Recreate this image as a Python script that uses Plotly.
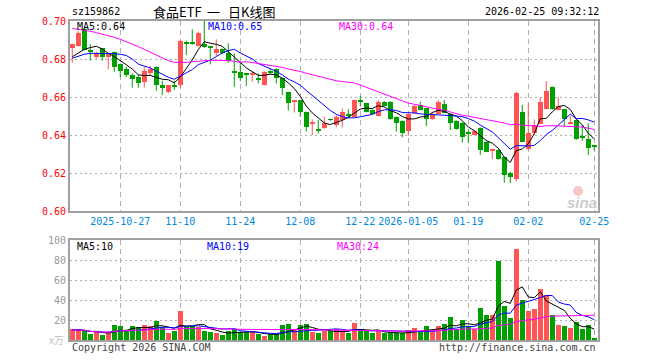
import numpy as np
import pandas as pd
import plotly.graph_objects as go

# ---------------- data ----------------
opens = [0.6858, 0.6868, 0.6956, 0.6847, 0.6809, 0.6856, 0.6809, 0.6835, 0.6774, 0.6747,
         0.6716, 0.6707, 0.6681, 0.6728, 0.6760, 0.6663, 0.6628, 0.6663, 0.6663, 0.6885,
         0.6885, 0.6868, 0.6879, 0.6865, 0.6830, 0.6851, 0.6830, 0.6735, 0.6733, 0.6723,
         0.6721, 0.6698, 0.6663, 0.6739, 0.6746, 0.6698, 0.6628, 0.6575, 0.6584, 0.6523,
         0.6459, 0.6428, 0.6435, 0.6484, 0.6453, 0.6479, 0.6507, 0.6496, 0.6584, 0.6567,
         0.6532, 0.6500, 0.6575, 0.6575, 0.6496, 0.6475, 0.6423, 0.6514, 0.6558, 0.6540,
         0.6482, 0.6511, 0.6563, 0.6511, 0.6475, 0.6465, 0.6411, 0.6400, 0.6435, 0.6365,
         0.6319, 0.6321, 0.6282, 0.6202, 0.6167, 0.6523, 0.6325, 0.6412, 0.6458, 0.6535,
         0.6654, 0.6532, 0.6535, 0.6458, 0.6479, 0.6390, 0.6379, 0.6340]
highs = [0.6881, 0.6946, 0.6960, 0.6879, 0.6839, 0.6858, 0.6830, 0.6839, 0.6777, 0.6760,
         0.6725, 0.6716, 0.6760, 0.6763, 0.6763, 0.6686, 0.6663, 0.6686, 0.6900, 0.6897,
         0.6956, 0.6944, 0.7000, 0.6868, 0.6904, 0.6856, 0.6883, 0.6830, 0.6786, 0.6725,
         0.6733, 0.6725, 0.6735, 0.6751, 0.6751, 0.6700, 0.6628, 0.6584, 0.6584, 0.6523,
         0.6482, 0.6479, 0.6496, 0.6486, 0.6505, 0.6540, 0.6535, 0.6586, 0.6605, 0.6570,
         0.6535, 0.6584, 0.6578, 0.6578, 0.6498, 0.6477, 0.6514, 0.6558, 0.6575, 0.6542,
         0.6523, 0.6584, 0.6584, 0.6514, 0.6477, 0.6467, 0.6426, 0.6426, 0.6440, 0.6367,
         0.6325, 0.6323, 0.6284, 0.6207, 0.6628, 0.6558, 0.6567, 0.6482, 0.6598, 0.6684,
         0.6656, 0.6598, 0.6537, 0.6500, 0.6481, 0.6453, 0.6461, 0.6341]
lows = [0.6781, 0.6865, 0.6845, 0.6791, 0.6802, 0.6791, 0.6746, 0.6733, 0.6704, 0.6704,
        0.6649, 0.6649, 0.6649, 0.6711, 0.6633, 0.6610, 0.6619, 0.6637, 0.6646, 0.6821,
        0.6875, 0.6865, 0.6858, 0.6772, 0.6816, 0.6825, 0.6781, 0.6654, 0.6684, 0.6658,
        0.6681, 0.6672, 0.6660, 0.6720, 0.6672, 0.6610, 0.6528, 0.6518, 0.6496, 0.6418,
        0.6400, 0.6409, 0.6433, 0.6475, 0.6440, 0.6440, 0.6488, 0.6494, 0.6553, 0.6520,
        0.6509, 0.6498, 0.6551, 0.6480, 0.6418, 0.6388, 0.6395, 0.6511, 0.6530, 0.6447,
        0.6479, 0.6509, 0.6516, 0.6426, 0.6428, 0.6360, 0.6360, 0.6398, 0.6295, 0.6310,
        0.6272, 0.6270, 0.6149, 0.6146, 0.6155, 0.6363, 0.6321, 0.6400, 0.6456, 0.6533,
        0.6533, 0.6530, 0.6447, 0.6456, 0.6375, 0.6370, 0.6295, 0.6318]
closes = [0.6879, 0.6939, 0.6847, 0.6839, 0.6830, 0.6809, 0.6825, 0.6760, 0.6739, 0.6716,
          0.6695, 0.6675, 0.6737, 0.6746, 0.6663, 0.6646, 0.6663, 0.6654, 0.6897, 0.6881,
          0.6881, 0.6935, 0.6861, 0.6858, 0.6851, 0.6830, 0.6791, 0.6731, 0.6698, 0.6719,
          0.6728, 0.6693, 0.6733, 0.6728, 0.6698, 0.6646, 0.6567, 0.6584, 0.6523, 0.6444,
          0.6463, 0.6424, 0.6465, 0.6479, 0.6496, 0.6523, 0.6503, 0.6584, 0.6576, 0.6523,
          0.6511, 0.6575, 0.6553, 0.6482, 0.6465, 0.6412, 0.6511, 0.6553, 0.6532, 0.6482,
          0.6511, 0.6575, 0.6518, 0.6465, 0.6430, 0.6391, 0.6407, 0.6423, 0.6321, 0.6312,
          0.6323, 0.6272, 0.6190, 0.6181, 0.6623, 0.6365, 0.6412, 0.6453, 0.6575, 0.6633,
          0.6535, 0.6553, 0.6482, 0.6470, 0.6377, 0.6386, 0.6330, 0.6338]
volumes = [10.3, 10.3, 8.7, 5.3, 8.7, 4.3, 7.7, 14.3, 13.3, 8.7,
           13.3, 12.7, 14.3, 13.3, 18.3, 12.7, 6.3, 8.3, 28.3, 13.7,
           13.7, 13.0, 8.3, 7.7, 6.3, 4.3, 8.3, 10.3, 7.7, 7.7,
           7.7, 5.3, 3.7, 5.3, 5.3, 14.3, 15.3, 10.3, 14.3, 15.3,
           7.7, 6.3, 8.3, 8.7, 11.0, 8.7, 6.7, 16.3, 10.3, 8.7,
           6.7, 8.7, 6.7, 6.7, 6.7, 6.7, 9.7, 11.3, 7.7, 13.3,
           9.7, 13.3, 15.3, 22.3, 10.3, 19.7, 13.7, 10.3, 31.3, 24.3,
           24.3, 79.3, 34.3, 21.3, 91.3, 40.3, 28.7, 30.3, 51.3, 45.3,
           24.3, 14.3, 13.3, 11.3, 17.7, 10.3, 14.3, 1.3]

# moving-average values for the first days, where the
# averaging window reaches back before the first visible candle
ma5_lead = [0.6812, 0.6830, 0.6851, 0.6860]
ma10_lead = [0.6804, 0.6816, 0.6825, 0.6830, 0.6830, 0.6830, 0.6830, 0.6828, 0.6825]
ma30_lead = [0.6961, 0.6957, 0.6952, 0.6946, 0.6939, 0.6932, 0.6925, 0.6914, 0.6904, 0.6892,
             0.6879, 0.6865, 0.6851, 0.6835, 0.6819, 0.6804, 0.6791, 0.6782, 0.6781, 0.6782,
             0.6786, 0.6789, 0.6791, 0.6793, 0.6793, 0.6793, 0.6791, 0.6788, 0.6782]

tick_pos = [8, 18, 28, 38, 48, 56, 66, 76, 87]
tick_labels = ["2025-10-27", "11-10", "11-24", "12-08", "12-22",
               "2026-01-05", "01-19", "02-02", "02-25"]
price_ticks = [0.60, 0.62, 0.64, 0.66, 0.68, 0.70]
vol_ticks = [20, 40, 60, 80, 100]

code = "sz159862"
title_parts = ["食品ETF", "一", "日K线图"]
stamp = "2026-02-25 09:32:12"
price_legend = ["MA5:0.64", "MA10:0.65", "MA30:0.64"]
vol_legend = ["MA5:10", "MA10:19", "MA30:24"]

# ---------------- derived ----------------
o = np.array(opens); h = np.array(highs); l = np.array(lows); c = np.array(closes)
v = np.array(volumes)
n = len(o)
x = np.arange(n)
up = c >= o
RED = "#ff5555"
GREEN = "#00a000"
colors = [RED if u else GREEN for u in up]

body_base = np.minimum(o, c)
body_h = np.maximum(np.abs(c - o), 0.0005)

cs = pd.Series(c)
vs = pd.Series(v)
leads = {5: ma5_lead, 10: ma10_lead, 30: ma30_lead}
ma = {}
for k in (5, 10, 30):
    m = cs.rolling(k).mean().to_numpy()
    m[:len(leads[k])] = leads[k]
    ma[k] = m
vma = {k: vs.rolling(k, min_periods=1).mean() for k in (5, 10, 30)}
ma_colors = {5: "#000000", 10: "#0000ff", 30: "#ff00ff"}

fig = go.Figure()

# wicks
for flag, col in ((True, RED), (False, GREEN)):
    wx, wy = [], []
    for i in range(n):
        if up[i] == flag:
            wx += [i, i, None]
            wy += [l[i], h[i], None]
    fig.add_trace(go.Scatter(x=wx, y=wy, mode="lines", line=dict(color=col, width=1),
                             hoverinfo="skip", xaxis="x", yaxis="y"))

# bodies
fig.add_trace(go.Bar(x=x, y=body_h, base=body_base, marker=dict(color=colors, line=dict(width=0)),
                     width=0.78, xaxis="x", yaxis="y"))

for k in (5, 10, 30):
    fig.add_trace(go.Scatter(x=x, y=ma[k], mode="lines", line=dict(color=ma_colors[k], width=1),
                             xaxis="x", yaxis="y"))

# volume
fig.add_trace(go.Bar(x=x, y=v, marker=dict(color=colors, line=dict(width=0)), width=0.83,
                     xaxis="x2", yaxis="y2"))
for k in (5, 10, 30):
    fig.add_trace(go.Scatter(x=x, y=vma[k], mode="lines", line=dict(color=ma_colors[k], width=1),
                             xaxis="x2", yaxis="y2"))

# ---------------- layout ----------------
L, R, T, B = 70, 62, 21, 20
W, H = 660, 360
PW, PH = W - L - R, H - T - B


def px(xp):
    return (xp - L) / PW


def py(yp):
    return (H - B - yp) / PH


MONO = "DejaVu Sans Mono, Liberation Mono, monospace"
CJK = "Noto Sans CJK SC"
BORDER = "#a0a0a0"
GRID = "#b0b0b0"
xr = [-0.38, n - 0.38]

fig.update_layout(
    width=W, height=H, margin=dict(l=L, r=R, t=T, b=B),
    paper_bgcolor="white", plot_bgcolor="white", showlegend=False,
    bargap=0,
    xaxis=dict(domain=[0, 1], anchor="y", range=xr, tickvals=tick_pos, ticktext=tick_labels,
               tickfont=dict(family=MONO, size=10, color="#0088dd"), ticks="",
               showgrid=True, gridcolor=GRID, griddash="5px,4px", gridwidth=1,
               showline=True, mirror=True, linecolor=BORDER, linewidth=2, zeroline=False),
    xaxis2=dict(domain=[0, 1], anchor="y2", range=xr, tickvals=tick_pos, showticklabels=False,
                ticks="", showgrid=True, gridcolor=GRID, griddash="5px,4px", gridwidth=1,
                showline=True, mirror=True, linecolor=BORDER, linewidth=2, zeroline=False),
    yaxis=dict(domain=[py(211), 1], anchor="x", range=[0.60, 0.70], tickvals=price_ticks,
               ticktext=[f"{t:.2f}" for t in price_ticks],
               tickfont=dict(family=MONO, size=10, color="#ff0000"), ticks="",
               showgrid=True, gridcolor=GRID, griddash="2px,3px", gridwidth=1,
               showline=True, mirror=True, linecolor=BORDER, linewidth=2, zeroline=False),
    yaxis2=dict(domain=[0, py(240.3)], anchor="x2", range=[0, 100], tickvals=vol_ticks,
                ticktext=[str(t) for t in vol_ticks],
                tickfont=dict(family=MONO, size=10, color="#999999"), ticks="",
                showgrid=True, gridcolor=GRID, griddash="2px,3px", gridwidth=1,
                showline=True, mirror=True, linecolor=BORDER, linewidth=2, zeroline=False),
)

ann = []


def text(t, xp, yp, color, anchor="left", size=10, family=MONO):
    ann.append(dict(text=t, x=px(xp), y=py(yp), xref="paper", yref="paper",
                    xanchor=anchor, yanchor="middle", showarrow=False,
                    font=dict(family=family, size=size, color=color)))


text(code, 70, 11, "#000000")
for part, xp in zip(title_parts, (151, 205, 226)):
    text(part, xp, 11, "#000000", size=13, family=CJK)
text(stamp, 601, 11, "#000000", anchor="right")
for t, xp, col in zip(price_legend, (75, 206, 337), ("#000000", "#0000ff", "#ff00ff")):
    text(t, xp, 26.5, col)
for t, xp, col in zip(vol_legend, (75, 205, 335), ("#000000", "#0000ff", "#ff00ff")):
    text(t, xp, 246, col)
text("Copyright 2026 SINA.COM", 70, 347, "#444444")
text("http://finance.sina.com.cn", 598, 347, "#444444", anchor="right")
text("x万", 56, 339, "#c0c0c0", anchor="center", size=10, family=CJK)
text("<b><i>sina</i></b>", 582, 202, "#cccccc", anchor="center", size=15, family="Liberation Sans")
fig.update_layout(annotations=ann)

fig.add_shape(type="circle", xref="paper", yref="paper",
              x0=px(573), x1=px(583), y0=py(196), y1=py(186),
              fillcolor="#f4b0b0", line=dict(width=0), opacity=0.7)

fig.write_html("out.html", config={"displayModeBar": False},
               post_script="document.body.style.margin='0';")
